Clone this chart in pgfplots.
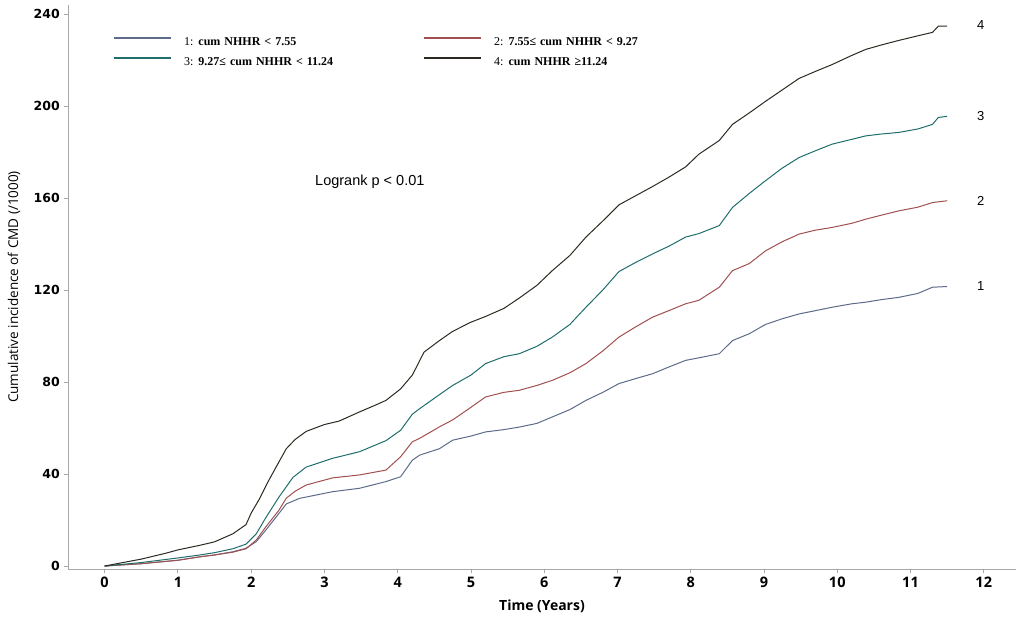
\documentclass[border=0pt]{standalone}
\usepackage{fontspec}
\setmainfont{Liberation Sans}
\newfontfamily\dejafont{DejaVu Sans}
\newfontfamily\openfont{Open Sans}
\newfontfamily\seriffont{Liberation Serif}
\usepackage{pgfplots}
\pgfplotsset{compat=1.18}
\definecolor{cA}{HTML}{5E6A8A}
\definecolor{cB}{HTML}{A0504E}
\definecolor{cC}{HTML}{1F6E6C}
\definecolor{cD}{HTML}{2C2A20}
\definecolor{axgray}{HTML}{A8A8A8}
\begin{document}
\begin{tikzpicture}[x=1pt,y=1pt]
\path[use as bounding box] (-68,-52) rectangle (958,569);
\begin{axis}[
  at={(0,0)}, anchor=south west,
  scale only axis, width=948pt, height=564pt,
  xmin=-0.5, xmax=12.44, ymin=-1.3, ymax=243.9,
  axis x line*=bottom, axis y line*=left,
  axis line style={axgray, line width=0.8pt},
  xtick={0,...,12}, ytick={0,40,...,240},
  tick align=outside, major tick length=4.5pt,
  tick style={axgray, line width=0.8pt},
  /pgf/number format/assume math mode=true,
  xticklabel style={font=\openfont\bfseries\fontsize{14.5}{14}\selectfont, inner ysep=3pt},
  yticklabel style={font=\dejafont\bfseries\fontsize{12.5}{12}\selectfont, inner xsep=3.5pt},
  xlabel={Time (Years)},
  ylabel={Cumulative incidence of CMD (/1000)},
  every axis x label/.style={at={(axis description cs:0.5,0)}, anchor=center, yshift=-37pt,
     font=\openfont\bfseries\fontsize{14}{14}\selectfont},
  every axis y label/.style={at={(axis description cs:-0.057,0.5)}, rotate=90, anchor=center,
     font=\openfont\fontsize{13.5}{13}\selectfont},
  legend columns=2,
  legend cell align=left,
  legend style={at={(rel axis cs:0.0475,0.945)}, anchor=north west, draw=none, fill=none,
     inner sep=0pt, outer sep=0pt, column sep=13pt, row sep=8pt,
     nodes={inner sep=0pt, text height=9pt, text depth=3pt, text width=226pt, align=left,
            font=\seriffont\fontsize{12}{13}\selectfont}},
  legend image code/.code={\draw[#1, line width=1.1pt] (0pt,4pt) -- (57pt,4pt);},
  every axis plot/.append style={line width=1pt, line join=round},
]
\addplot[cA] coordinates {
(0,0) (0.5,1) (1,2.5) (1.3,4) (1.5,4.8) (1.75,6.2) (1.93,7.7) (2.07,10.6) (2.2,15.6)
(2.38,22.9) (2.48,27) (2.66,29.4) (3.11,32.3) (3.48,33.8) (3.84,36.7) (4.04,38.8)
(4.2,46) (4.3,48.2) (4.57,51) (4.75,54.7) (5.0,56.5) (5.2,58.3) (5.45,59.3) (5.66,60.4)
(5.9,62) (6.11,64.8) (6.35,68) (6.57,72) (6.8,75.5) (7.02,79.3) (7.25,81.5) (7.48,83.6)
(7.7,86.5) (7.93,89.4) (8.11,90.5) (8.39,92.3) (8.57,98) (8.8,101) (9.02,105) (9.25,107.5)
(9.48,109.6) (9.7,111) (9.93,112.5) (10.2,114) (10.39,114.7) (10.6,115.8) (10.84,116.8)
(11.1,118.5) (11.3,121.2) (11.5,121.5)
};
\addlegendentry{1:\hspace{5pt}\textbf{cum NHHR < 7.55}}
\addplot[cB] coordinates {
(0,0) (0.5,1) (1,2.5) (1.3,4) (1.5,4.8) (1.75,6) (1.93,7.5) (2.07,11.3) (2.2,17)
(2.38,24.3) (2.48,29.5) (2.6,32.5) (2.75,35.2) (3.11,38.3) (3.48,39.6) (3.84,41.7)
(4.04,47.5) (4.2,54) (4.3,55.5) (4.57,60.5) (4.75,63.5) (5.0,69) (5.2,73.5) (5.45,75.5)
(5.66,76.4) (5.9,78.5) (6.11,80.7) (6.35,84) (6.57,88) (6.8,93.5) (7.02,99.5) (7.25,104)
(7.48,108.2) (7.7,111) (7.93,114) (8.11,115.5) (8.39,121.2) (8.57,128.4) (8.8,131.5)
(9.02,137) (9.25,141) (9.48,144.3) (9.7,146) (9.93,147.2) (10.2,149) (10.39,150.8)
(10.6,152.5) (10.84,154.4) (11.1,156) (11.3,158) (11.5,158.8)
};
\addlegendentry{2:\hspace{5pt}\textbf{7.55≤ cum NHHR < 9.27}}
\addplot[cC] coordinates {
(0,0) (0.5,1.5) (1,3.5) (1.3,4.8) (1.5,5.8) (1.75,7.5) (1.93,9.5) (2.07,14) (2.2,21)
(2.38,30) (2.57,38.5) (2.75,43) (3.11,46.8) (3.48,49.7) (3.84,54.5) (4.04,59) (4.2,66)
(4.3,68.4) (4.57,74.5) (4.75,78.5) (5.0,83) (5.2,88) (5.45,91) (5.66,92.3) (5.9,95.5)
(6.11,99.5) (6.35,105) (6.57,112.5) (6.8,120) (7.02,128) (7.25,132) (7.48,135.7)
(7.7,139) (7.93,143) (8.11,144.5) (8.39,148) (8.57,155.9) (8.8,162) (9.02,167.5)
(9.25,173) (9.48,177.6) (9.7,180.5) (9.93,183.4) (10.2,185.5) (10.39,187) (10.6,187.8)
(10.84,188.5) (11.1,190) (11.3,192) (11.38,195) (11.5,195.5)
};
\addlegendentry{3:\hspace{5pt}\textbf{9.27≤ cum NHHR < 11.24}}
\addplot[cD] coordinates {
(0,0) (0.5,3) (0.84,5.6) (1,7) (1.3,9) (1.5,10.5) (1.75,14) (1.93,18) (2.0,23) (2.11,29)
(2.22,36) (2.34,43) (2.48,51) (2.6,55) (2.75,58.5) (3.0,61.5) (3.2,63) (3.48,67) (3.7,70)
(3.84,72) (4.04,77) (4.2,83) (4.36,93) (4.57,98) (4.75,102) (5.0,106) (5.2,108.5)
(5.45,112) (5.66,116.5) (5.9,122) (6.11,128.4) (6.35,135) (6.57,143) (6.8,150) (7.02,157)
(7.25,161) (7.48,165) (7.7,169) (7.93,173.5) (8.11,179) (8.39,185) (8.57,192) (8.8,197)
(9.02,202) (9.25,207) (9.48,212) (9.7,215) (9.93,218) (10.2,222) (10.39,224.6)
(10.6,226.5) (10.84,228.5) (11.1,230.5) (11.3,232) (11.38,234.7) (11.5,234.7)
};
\addlegendentry{4:\hspace{5pt}\textbf{cum NHHR ≥11.24}}
\node[font=\fontsize{14.5}{15}\selectfont] at (axis cs:3.62,167) {Logrank p < 0.01};
\node[font=\fontsize{13}{13}\selectfont] at (axis cs:11.96,235.2) {4};
\node[font=\fontsize{13}{13}\selectfont] at (axis cs:11.96,195.7) {3};
\node[font=\fontsize{13}{13}\selectfont] at (axis cs:11.96,158.7) {2};
\node[font=\fontsize{13}{13}\selectfont] at (axis cs:11.96,121.7) {1};
\end{axis}
\end{tikzpicture}
\end{document}
